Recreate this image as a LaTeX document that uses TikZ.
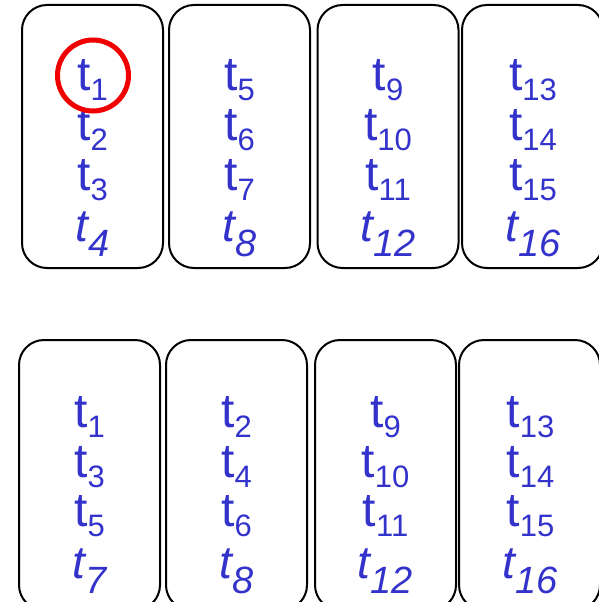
\documentclass[tikz,border=0pt]{standalone}
\usepackage{fontspec}
\setmainfont{Liberation Sans}
\definecolor{tblue}{RGB}{51,51,204}
\definecolor{circred}{RGB}{240,0,0}
\newcommand{\tsub}[1]{t\raisebox{-10pt}{\fontsize{31}{31}\selectfont #1}}
\newcommand{\tisub}[1]{{\itshape t\raisebox{-15pt}{\fontsize{38}{38}\selectfont #1}}}
\tikzset{
  cardbox/.style={draw=black, line width=2pt, rounded corners=25pt, minimum width=141pt, inner sep=0pt, outer sep=0pt},
  lbl/.style={anchor=base, text=tblue, font=\fontsize{48}{48}\selectfont, inner sep=0pt},
  ilbl/.style={anchor=base, text=tblue, font=\fontsize{46}{46}\selectfont, inner sep=0pt},
  mark circle/.style={draw=circred, line width=5pt, circle, minimum size=71pt, inner sep=0pt}
}
\begin{document}
\begin{tikzpicture}[x=1pt,y=-1pt]
\useasboundingbox (0,0) rectangle (599,602);
% top row boxes
\node[cardbox, minimum height=263pt] (A1) at (92.5,136.5) {};
\node[cardbox, minimum height=263pt] (A2) at (239.5,136.5) {};
\node[cardbox, minimum height=263pt] (A3) at (388,136.5) {};
\node[cardbox, minimum height=263pt] (A4) at (532.5,136.5) {};
% bottom row boxes
\node[cardbox, minimum height=270pt] (B1) at (89.5,475) {};
\node[cardbox, minimum height=270pt] (B2) at (236.5,475) {};
\node[cardbox, minimum height=270pt] (B3) at (385.5,475) {};
\node[cardbox, minimum height=270pt] (B4) at (529.5,475) {};
% top row labels
\node[lbl] (a11) at (92.5,90) {\tsub{1}};
\node[lbl] (a12) at (92.5,140) {\tsub{2}};
\node[lbl] (a13) at (92.5,190) {\tsub{3}};
\node[ilbl] (a14) at (92.5,241) {\tisub{4}};
\node[lbl] (a21) at (239.5,90) {\tsub{5}};
\node[lbl] (a22) at (239.5,140) {\tsub{6}};
\node[lbl] (a23) at (239.5,190) {\tsub{7}};
\node[ilbl] (a24) at (239.5,241) {\tisub{8}};
\node[lbl] (a31) at (388,90) {\tsub{9}};
\node[lbl] (a32) at (388,140) {\tsub{10}};
\node[lbl] (a33) at (388,190) {\tsub{11}};
\node[ilbl] (a34) at (388,241) {\tisub{12}};
\node[lbl] (a41) at (533,90) {\tsub{13}};
\node[lbl] (a42) at (533,140) {\tsub{14}};
\node[lbl] (a43) at (533,190) {\tsub{15}};
\node[ilbl] (a44) at (533,241) {\tisub{16}};
% bottom row labels
\node[lbl] (b11) at (89.5,427) {\tsub{1}};
\node[lbl] (b12) at (89.5,477) {\tsub{3}};
\node[lbl] (b13) at (89.5,526) {\tsub{5}};
\node[ilbl] (b14) at (89.5,578) {\tisub{7}};
\node[lbl] (b21) at (236.5,427) {\tsub{2}};
\node[lbl] (b22) at (236.5,477) {\tsub{4}};
\node[lbl] (b23) at (236.5,526) {\tsub{6}};
\node[ilbl] (b24) at (236.5,578) {\tisub{8}};
\node[lbl] (b31) at (385.5,427) {\tsub{9}};
\node[lbl] (b32) at (385.5,477) {\tsub{10}};
\node[lbl] (b33) at (385.5,526) {\tsub{11}};
\node[ilbl] (b34) at (385.5,578) {\tisub{12}};
\node[lbl] (b41) at (530.5,427) {\tsub{13}};
\node[lbl] (b42) at (530.5,477) {\tsub{14}};
\node[lbl] (b43) at (530.5,526) {\tsub{15}};
\node[ilbl] (b44) at (530.5,578) {\tisub{16}};
% red circle
\node[mark circle] (rc) at (93,75.5) {};
\end{tikzpicture}
\end{document}
